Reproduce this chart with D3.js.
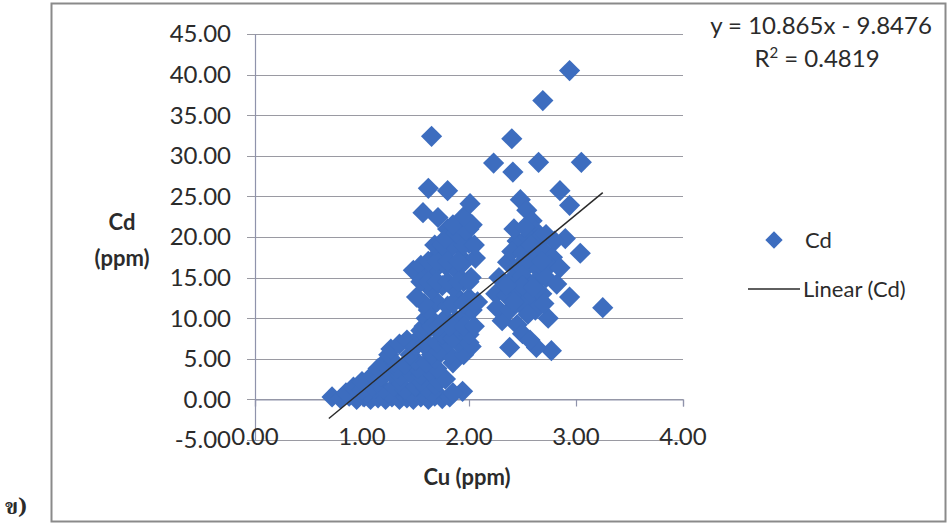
<!DOCTYPE html>
<html>
<head>
<meta charset="utf-8">
<script src="https://cdn.jsdelivr.net/npm/d3@7/dist/d3.min.js"></script>
<style>
  html, body { margin: 0; padding: 0; background: #ffffff; }
  svg { display: block; }
  text { font-family: Lato, "Open Sans", "Noto Sans", sans-serif; fill: #2b2b2b; }
</style>
</head>
<body>
<svg id="chart" width="949" height="527"></svg>
<script>
// ---- data (Cu ppm vs Cd ppm) ----
const cuValues = [
  // bottom row of main cluster
  0.72,0.80,0.88,0.95,1.02,1.08,1.15,1.22,1.28,1.35,1.42,1.48,1.55,1.62,1.68,1.75,1.82,1.94,
  // y ~1
  0.85,1.05,1.25,1.45,1.65,1.85,
  // y ~1.5
  0.92,1.00,1.10,1.20,1.30,1.40,1.50,1.60,1.68,
  // y ~2.2
  1.00,1.15,1.35,1.55,1.72,
  // y ~3
  1.10,1.18,1.27,1.36,1.45,1.55,1.63,1.78,
  // y ~3.8
  1.15,1.33,1.52,1.70,
  // y ~4.5
  1.20,1.30,1.40,1.50,1.60,1.68,1.85,
  // y ~5.5
  1.25,1.45,1.65,1.82,
  // y ~6-7
  1.27,1.35,1.42,1.50,1.55,1.62,1.72,1.95,2.02,
  1.60,1.70,1.80,1.90,2.00,
  // x 1.55 - 2.1, y 7 - 24
  1.55,1.58,1.60,1.75,1.85,1.92,2.00,1.68,1.78,1.88,1.97,2.03,1.62,1.70,1.80,1.90,2.00,2.08,
  1.65,1.72,1.82,1.95,2.05,
  1.58,1.85,1.95,2.05,
  1.51,1.65,1.75,1.85,1.95,2.02,1.48,1.55,1.60,1.68,1.78,1.88,1.96,2.06,1.72,1.82,1.92,2.00,
  1.55,1.62,1.70,1.80,1.90,2.00,
  1.62,1.70,1.80,1.90,
  1.68,1.75,1.85,1.95,2.05,
  1.80,1.90,2.00,
  1.78,1.88,1.97,2.03,1.85,1.95,2.01,1.71,1.57,1.62,1.80,1.65,
  // second cluster
  2.23,2.41,2.40,2.65,3.05,2.69,2.94,2.48,2.54,2.59,2.85,2.94,2.90,3.04,3.25,2.94,2.74,2.77,
  2.38,2.63,2.31,2.36,2.62,
  2.45,2.55,2.65,2.72,2.80,
  2.40,2.50,2.60,2.70,2.78,
  2.45,2.55,2.65,2.75,2.85,
  2.28,2.40,2.50,2.62,2.72,2.82,
  2.25,2.35,2.48,2.58,2.68,
  2.26,2.38,2.50,2.62,
  2.45,2.50,2.57,
  2.42,2.52,2.58,2.68,2.50,2.60,2.42,2.55,2.35,2.70
];
const cdValues = [
  0.3,0.1,0.4,0.0,0.3,0.0,0.2,0.0,0.3,0.0,0.2,0.0,0.3,0.0,0.4,0.1,0.3,1.0,
  0.8,0.8,0.8,0.8,0.8,0.8,
  1.5,1.2,1.6,1.3,1.5,1.2,1.6,1.4,1.8,
  2.2,2.2,2.2,2.2,2.2,
  3.0,2.8,3.2,2.9,3.3,3.0,3.5,2.5,
  3.8,3.8,3.8,3.8,
  4.4,4.6,4.3,4.8,4.5,5.0,4.5,
  5.5,5.5,5.5,5.5,
  6.2,6.8,7.3,6.5,7.8,6.2,6.0,5.5,6.5,
  7.0,7.0,7.0,7.0,7.0,
  8.5,9.0,10.0,8.0,7.5,8.5,8.0,9.5,10.0,9.8,10.5,11.0,11.0,12.0,11.5,12.5,12.5,12.0,
  9.0,9.0,9.0,9.0,9.0,
  11.8,11.8,11.8,11.8,
  12.6,13.5,14.0,13.8,14.5,15.0,15.9,16.5,15.0,16.0,16.5,16.0,17.0,17.4,18.0,18.5,18.8,19.2,
  14.5,14.5,14.5,14.5,14.5,14.5,
  17.0,17.0,17.0,17.0,
  19.0,19.0,19.0,19.0,19.0,
  21.0,21.0,21.0,
  19.8,20.5,20.8,21.5,21.5,22.5,24.1,22.4,23.0,26.0,25.7,32.4,
  29.1,28.0,32.1,29.2,29.2,36.8,40.5,24.6,23.3,22.0,25.7,23.9,19.8,18.0,11.3,12.6,10.0,6.0,
  6.4,6.4,9.7,16.9,20.8,
  19.5,20.0,19.8,20.3,19.5,
  18.2,18.0,17.8,18.3,17.5,
  16.2,16.5,16.0,16.5,16.2,
  15.0,14.8,15.2,14.5,15.0,14.2,
  13.0,12.8,13.3,12.6,13.0,
  11.3,11.0,11.5,11.0,
  9.2,8.1,7.3,
  21.0,21.2,19.0,17.0,14.0,13.8,12.0,10.5,14.0,11.8
];
const xTicks = [0, 1, 2, 3, 4];
const yTicks = [-5, 0, 5, 10, 15, 20, 25, 30, 35, 40, 45];
const slope = 10.865, intercept = -9.8476;
const equationText = "y = 10.865x - 9.8476";
const r2Text = "0.4819";
const seriesName = "Cd";
const trendName = "Linear (Cd)";
const xTitle = "Cu (ppm)";
const yTitleLines = ["Cd", "(ppm)"];
const panelLabel = "ข)";

// ---- drawing ----
const svg = d3.select("#chart");
const x = d3.scaleLinear().domain([0, 4]).range([255, 683]);
const y = d3.scaleLinear().domain([-5, 45]).range([440, 34]);
const blue = "#3d6dbf";

// outer frame
svg.append("rect").attr("x", 51.5).attr("y", 3.5).attr("width", 894).attr("height", 518)
  .attr("fill", "none").attr("stroke", "#8a8a8a").attr("stroke-width", 2);

// horizontal gridlines
svg.append("g").selectAll("line").data(yTicks).join("line")
  .attr("x1", x(0) - 8).attr("x2", x(4))
  .attr("y1", d => Math.round(y(d)) + 0.5).attr("y2", d => Math.round(y(d)) + 0.5)
  .attr("stroke", "#9a9aa2").attr("stroke-width", 1.2);

// y axis line
svg.append("line").attr("x1", x(0) + 0.5).attr("x2", x(0) + 0.5)
  .attr("y1", y(45)).attr("y2", y(-5)).attr("stroke", "#8f93ab").attr("stroke-width", 1.2);

// x axis at y=0 with ticks
const xAxis = d3.axisBottom(x).tickValues(xTicks).tickSize(7).tickFormat("");
const gx = svg.append("g").attr("transform", `translate(0,${Math.round(y(0)) + 0.5})`).call(xAxis);
gx.select(".domain").attr("stroke", "#8f93ab").attr("stroke-width", 1.2);
gx.selectAll(".tick line").attr("stroke", "#8f93ab").attr("stroke-width", 1.2);

// y tick labels (plain hyphen for negatives, as in the original)
const fmt = v => d3.format(".2f")(v).replace("\u2212", "-");
svg.append("g").selectAll("text").data(yTicks).join("text")
  .attr("x", 231).attr("y", d => y(d)).attr("dy", "0.35em")
  .attr("text-anchor", "end").attr("font-size", 24).text(d => fmt(d));

// x tick labels (placed low, at the bottom of the plot)
svg.append("g").selectAll("text").data(xTicks).join("text")
  .attr("x", d => x(d)).attr("y", 445)
  .attr("text-anchor", "middle").attr("font-size", 24).text(d => fmt(d));

// axis titles
svg.append("text").attr("x", 467).attr("y", 485).attr("text-anchor", "middle")
  .attr("font-size", 22).attr("font-weight", "bold").text(xTitle);
svg.append("g").selectAll("text").data(yTitleLines).join("text")
  .attr("x", 122).attr("y", (d, i) => 230 + i * 36).attr("text-anchor", "middle")
  .attr("font-size", 22).attr("font-weight", "bold").text(d => d);

// points
const sym = d3.symbol().type(d3.symbolSquare).size(225);
const pts = cuValues.map((c, i) => ({ cu: c, cd: cdValues[i] }));
svg.append("g").selectAll("path").data(pts).join("path")
  .attr("d", sym)
  .attr("transform", d => `translate(${x(d.cu)},${y(d.cd)}) rotate(45)`)
  .attr("fill", blue);

// trend line over data range
const xmin = d3.min(cuValues) - 0.03, xmax = d3.max(cuValues);
svg.append("line")
  .attr("x1", x(xmin)).attr("y1", y(slope * xmin + intercept))
  .attr("x2", x(xmax)).attr("y2", y(slope * xmax + intercept))
  .attr("stroke", "#2a2a2a").attr("stroke-width", 1.5);

// equation
svg.append("text").attr("x", 821).attr("y", 34).attr("text-anchor", "middle")
  .attr("font-size", 24).text(equationText);
const r2 = svg.append("text").attr("x", 817).attr("y", 67).attr("text-anchor", "middle").attr("font-size", 24);
r2.append("tspan").text("R");
r2.append("tspan").attr("font-size", 15).attr("dy", -9).text("2");
r2.append("tspan").attr("dy", 9).text(" = " + r2Text);

// legend
svg.append("path").attr("d", d3.symbol().type(d3.symbolSquare).size(150))
  .attr("transform", "translate(774,240) rotate(45)").attr("fill", blue);
svg.append("text").attr("x", 805).attr("y", 240).attr("dy", "0.35em").attr("font-size", 22).text(seriesName);
svg.append("line").attr("x1", 748).attr("x2", 800).attr("y1", 289).attr("y2", 289)
  .attr("stroke", "#2a2a2a").attr("stroke-width", 1.5);
svg.append("text").attr("x", 803).attr("y", 289).attr("dy", "0.35em").attr("font-size", 22).text(trendName);

// panel label
svg.append("text").attr("x", 5).attr("y", 514).attr("font-size", 22).attr("font-weight", "bold")
  .style("font-family", "'Noto Serif Thai','Noto Sans Thai','Loma','Garuda',serif").text(panelLabel);
</script>
</body>
</html>
